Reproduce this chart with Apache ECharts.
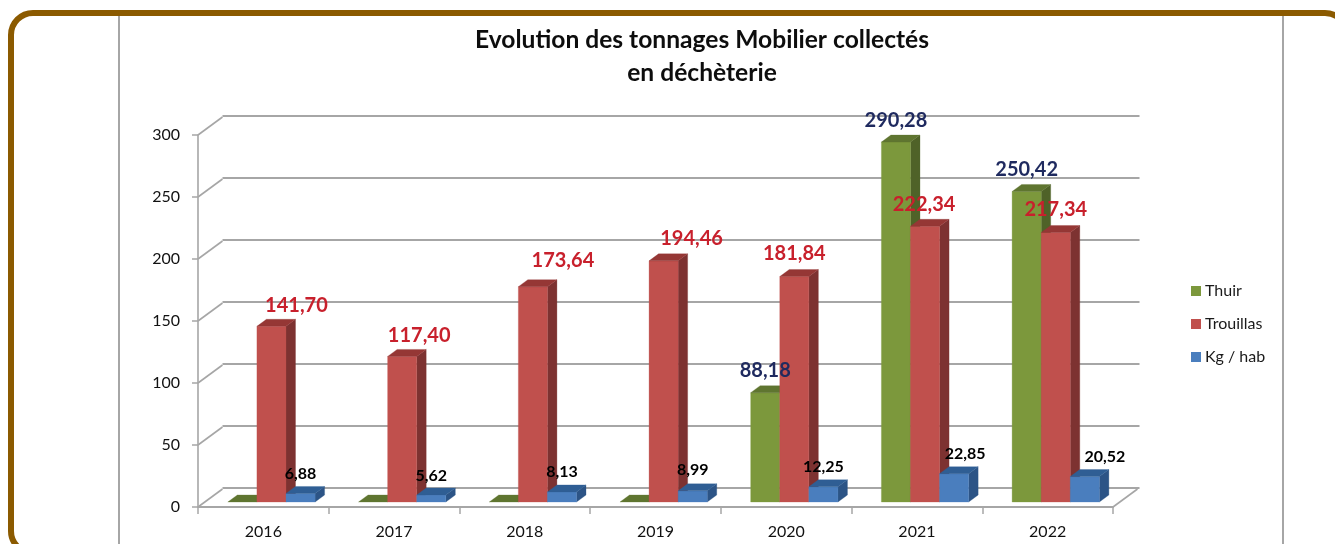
<!DOCTYPE html>
<html>
<head>
<meta charset="utf-8">
<style>html,body{margin:0;padding:0;background:#fff}#c{width:1335px;height:544px}</style>
<script src="https://cdn.jsdelivr.net/npm/echarts@6/dist/echarts.min.js"></script>
</head>
<body>
<div id="c"></div>
<script>
const categories = ['2016','2017','2018','2019','2020','2021','2022'];
const yTicks = [0,50,100,150,200,250,300];
const seriesNames = ['Thuir','Trouillas','Kg / hab'];
const thuir = [0,0,0,0,88.18,290.28,250.42];
const trouillas = [141.70,117.40,173.64,194.46,181.84,222.34,217.34];
const kgHab = [6.88,5.62,8.13,8.99,12.25,22.85,20.52];

// Hand-placed label nudges, in pixels
const trouillasLabelNudge = [[25,1],[17,1],[30,-4],[28,0],[0,-1],[-1,0],[0,-1]];
const kgLabelNudge = [[0,0],[0,1],[0,0],[0,-1],[0,0],[11,0],[20,0]];

const FONT = 'Lato, "Open Sans", sans-serif';
const GRID = {left:198, right:222, top:135, bottom:37};
const DEPTH_X = 24.5, DEPTH_Y = 18;       // plot depth (wall)
const BAR_DX = 8.1, BAR_DY = 5;           // bar plane offset from front axis
const BAR_TOP_X = 9.5, BAR_TOP_Y = 7;     // bar's own depth
const BAR_W = 0.2225;
const LINE = '#A6A6A6';

function fmt(v){ return v.toFixed(2).replace('.', ','); }

function barSeries(name, idx, values, colors, labelColor, labelSize, nudge, labelRise){
  return {
    name, type:'custom', coordinateSystem:'cartesian2d', xAxisIndex:0, yAxisIndex:0,
    itemStyle:{color:colors[0]},
    encode:{x:0,y:1},
    z:3,
    data: values.map((v,i)=>[i,v]),
    clip:false,
    renderItem(params, api){
      const i = api.value(0), v = api.value(1);
      const band = api.size([1,0])[0], w = band*BAR_W;
      const p = api.coord([i,v]), b = api.coord([i,0]);
      const x0 = p[0] + BAR_DX + (idx-1.5)*w, x1 = x0 + w;
      const yT = p[1]-BAR_DY, yB = b[1]-BAR_DY;
      const tx = BAR_TOP_X, ty = BAR_TOP_Y;
      const poly = (pts,fill)=>({type:'polygon',z2:idx+1,shape:{points:pts},style:{fill,stroke:fill,lineWidth:0.3}});
      const children = [];
      if (v > 0) {
        children.push(poly([[x1,yT],[x1+tx,yT-ty],[x1+tx,yB-ty],[x1,yB]],colors[2]));
        children.push(poly([[x0,yT],[x1,yT],[x1,yB],[x0,yB]],colors[0]));
      }
      children.push(poly([[x0,yT],[x1,yT],[x1+tx,yT-ty],[x0+tx,yT-ty]],colors[1]));
      if (v > 0) {
        const n = nudge ? nudge[i] : [0,0];
        children.push({type:'text',z2:100,style:{
          x:(x0+x1)/2+n[0], y:yT-labelRise+n[1], text:fmt(v), fill:labelColor,
          font:'bold '+labelSize+'px '+FONT, align:'center', verticalAlign:'middle'}});
      }
      return {type:'group',children};
    }
  };
}

const wallSeries = {
  type:'custom', coordinateSystem:'cartesian2d', xAxisIndex:0, yAxisIndex:0, silent:true, z:2, clip:false,
  data: yTicks.map(v=>[0,v]),
  encode:{x:0,y:1},
  renderItem(params, api){
    const v = api.value(1), band = api.size([1,0])[0];
    const p = api.coord([0,v]);
    const x = p[0]-band/2, y = p[1];
    const seg = (xa)=>({type:'line',shape:{x1:xa,y1:y,x2:xa+DEPTH_X,y2:y-DEPTH_Y},style:{stroke:LINE,lineWidth:1.6}});
    const kids = [seg(x)];
    if (v === 0) kids.push(seg(x+band*categories.length));
    return {type:'group',children:kids};
  }
};

const chart = echarts.init(document.getElementById('c'),null,{renderer:'canvas'});
chart.setOption({
  animation:false,
  backgroundColor:'#fff',
  title:{
    text:'Evolution des tonnages Mobilier collectés\nen déchèterie',
    left:697, top:19, textAlign:'center',
    textStyle:{fontFamily:FONT,fontWeight:'bold',fontSize:24.6,lineHeight:33,color:'#0d0d0d'}
  },
  legend:{
    orient:'vertical', left:1186, top:278, itemWidth:10, itemHeight:10, itemGap:17,
    icon:'rect', data:seriesNames,
    textStyle:{fontFamily:FONT,fontSize:16,color:'#1a1a1a',padding:[0,0,0,-1]}
  },
  graphic:[
    {type:'rect',z:-1,shape:{x:11,y:13,width:1336,height:540,r:22},style:{fill:'#fff',stroke:'#8B5A00',lineWidth:6}},
    {type:'line',z:0,shape:{x1:119,y1:16,x2:119,y2:544},style:{stroke:'#A6A6A6',lineWidth:2}},
    {type:'line',z:0,shape:{x1:1283,y1:16,x2:1283,y2:544},style:{stroke:'#A6A6A6',lineWidth:2}}
  ],
  grid:[
    {left:GRID.left,width:915,top:GRID.top,height:372},
    {left:GRID.left+DEPTH_X,width:915+2,top:GRID.top-DEPTH_Y-1,height:372}
  ],
  xAxis:[
    {type:'category',gridIndex:0,data:categories,boundaryGap:true,
     axisLine:{lineStyle:{color:LINE,width:2}},
     axisTick:{show:true,alignWithLabel:false,length:7,lineStyle:{color:LINE,width:1.5}},
     axisLabel:{fontFamily:FONT,fontSize:16,color:'#111',margin:17},splitLine:{show:false}},
    {type:'category',gridIndex:1,data:categories,show:false}
  ],
  yAxis:[
    {type:'value',gridIndex:0,min:0,max:300,interval:50,
     axisLine:{show:true,lineStyle:{color:LINE,width:1.6}},
     axisTick:{show:true,length:6,lineStyle:{color:LINE,width:1.5}},
     axisLabel:{fontFamily:FONT,fontSize:16,color:'#111',margin:18,formatter:v=>String(v)},
     splitLine:{show:false}},
    {type:'value',gridIndex:1,min:0,max:300,interval:50,
     axisLine:{show:false},axisTick:{show:false},axisLabel:{show:false},
     splitLine:{show:true,lineStyle:{color:LINE,width:2}}}
  ],
  series:[
    wallSeries,
    barSeries(seriesNames[0],0,thuir,['#7C983C','#5F7530','#4F6228'],'#1F2A5F',20,null,22),
    barSeries(seriesNames[1],1,trouillas,['#C0504D','#953735','#7D3231'],'#C8202C',20,trouillasLabelNudge,22),
    barSeries(seriesNames[2],2,kgHab,['#4A7EBE','#2F5E94','#2C5486'],'#000000',16,kgLabelNudge,20)
  ]
});
</script>
</body>
</html>
